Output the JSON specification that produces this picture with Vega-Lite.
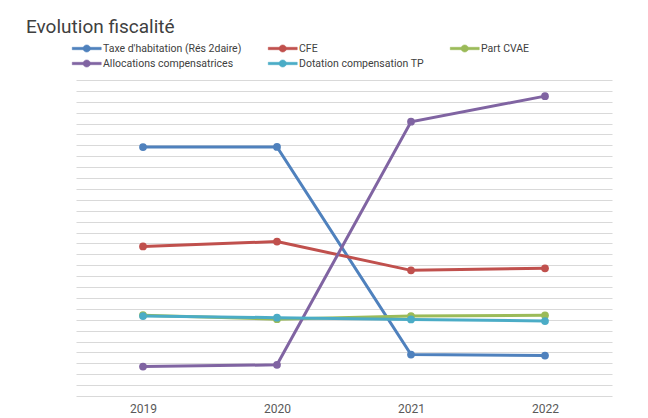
{
  "$schema": "https://vega.github.io/schema/vega-lite/v6.json",
  "width": 536,
  "height": 316,
  "autosize": {"type": "none"},
  "padding": {"left": 76, "top": 80, "right": 36, "bottom": 22},
  "background": "white",
  "title": {
    "text": "Evolution fiscalité",
    "anchor": "start",
    "frame": "group",
    "dx": -50,
    "offset": 4,
    "font": "Roboto, sans-serif",
    "fontSize": 19,
    "fontWeight": "normal",
    "color": "#404040"
  },
  "data": {
    "values": [
      {"annee": "2019", "serie": "Taxe d'habitation (Rés 2daire)", "v": 22.84},
      {"annee": "2020", "serie": "Taxe d'habitation (Rés 2daire)", "v": 22.86},
      {"annee": "2021", "serie": "Taxe d'habitation (Rés 2daire)", "v": 3.80},
      {"annee": "2022", "serie": "Taxe d'habitation (Rés 2daire)", "v": 3.71},
      {"annee": "2019", "serie": "CFE", "v": 13.73},
      {"annee": "2020", "serie": "CFE", "v": 14.17},
      {"annee": "2021", "serie": "CFE", "v": 11.53},
      {"annee": "2022", "serie": "CFE", "v": 11.72},
      {"annee": "2019", "serie": "Part CVAE", "v": 7.42},
      {"annee": "2020", "serie": "Part CVAE", "v": 7.05},
      {"annee": "2021", "serie": "Part CVAE", "v": 7.34},
      {"annee": "2022", "serie": "Part CVAE", "v": 7.40},
      {"annee": "2019", "serie": "Allocations compensatrices", "v": 2.70},
      {"annee": "2020", "serie": "Allocations compensatrices", "v": 2.86},
      {"annee": "2021", "serie": "Allocations compensatrices", "v": 25.17},
      {"annee": "2022", "serie": "Allocations compensatrices", "v": 27.52},
      {"annee": "2019", "serie": "Dotation compensation TP", "v": 7.34},
      {"annee": "2020", "serie": "Dotation compensation TP", "v": 7.19},
      {"annee": "2021", "serie": "Dotation compensation TP", "v": 7.03},
      {"annee": "2022", "serie": "Dotation compensation TP", "v": 6.88}
    ]
  },
  "mark": {
    "type": "line",
    "strokeWidth": 3,
    "point": {"filled": true, "size": 60, "opacity": 1}
  },
  "encoding": {
    "x": {
      "field": "annee",
      "type": "ordinal",
      "scale": {"type": "point", "padding": 0.5},
      "axis": {
        "title": null,
        "labelAngle": 0,
        "domain": false,
        "ticks": false,
        "grid": false,
        "labelPadding": 7,
        "labelFont": "Roboto, sans-serif",
        "labelFontSize": 12,
        "labelColor": "#595959"
      }
    },
    "y": {
      "field": "v",
      "type": "quantitative",
      "scale": {"domain": [0, 29], "nice": false, "zero": true},
      "axis": {
        "title": null,
        "labels": false,
        "ticks": false,
        "domain": false,
        "values": [0,1,2,3,4,5,6,7,8,9,10,11,12,13,14,15,16,17,18,19,20,21,22,23,24,25,26,27,28,29],
        "grid": true,
        "gridColor": "#d9d9d9",
        "gridWidth": 1.2
      }
    },
    "color": {
      "field": "serie",
      "type": "nominal",
      "sort": ["Taxe d'habitation (Rés 2daire)", "CFE", "Part CVAE", "Allocations compensatrices", "Dotation compensation TP"],
      "scale": {
        "domain": ["Taxe d'habitation (Rés 2daire)", "CFE", "Part CVAE", "Allocations compensatrices", "Dotation compensation TP"],
        "range": ["#4F81BD", "#C0504D", "#9BBB59", "#8064A2", "#4BACC6"]
      },
      "legend": {
        "title": null,
        "orient": "none",
        "direction": "horizontal",
        "legendX": -4,
        "legendY": -39,
        "columns": 3,
        "gridAlign": "each",
        "columnPadding": 25,
        "rowPadding": 2,
        "symbolType": "M-1,-0.17H3V0.17H-1Z M1.5,0 A0.5,0.5 0 1,1 0.5,0 A0.5,0.5 0 1,1 1.5,0 Z",
        "symbolSize": 210,
        "symbolStrokeWidth": 0.5,
        "labelFont": "Roboto, sans-serif",
        "labelFontSize": 10.5,
        "labelColor": "#404040",
        "labelOffset": 16,
        "encode": {
          "symbols": {"update": {"fill": {"scale": "color", "field": "value"}, "fillOpacity": {"value": 1}}}
        }
      }
    }
  },
  "config": {"view": {"stroke": null}}
}
